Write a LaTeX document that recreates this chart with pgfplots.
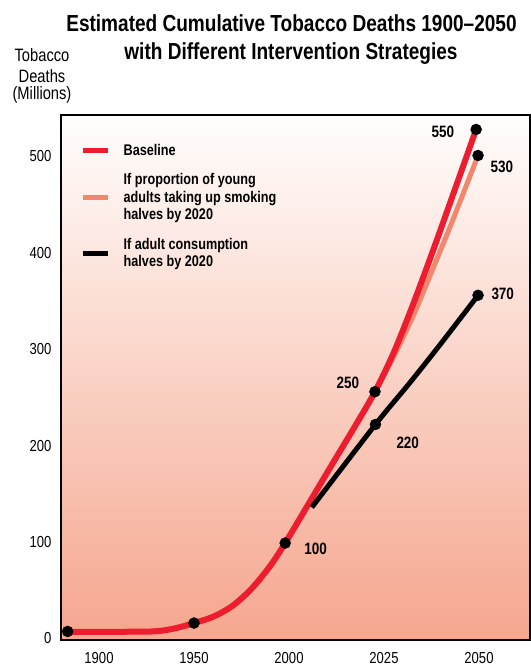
\documentclass[border=0pt]{standalone}
\usepackage{pgfplots}
\pgfplotsset{compat=1.18}
\usepackage{fontspec}
\setmainfont[FakeStretch=0.82]{Liberation Sans}

\definecolor{baseRed}{RGB}{237,28,46}
\definecolor{youngOrange}{RGB}{243,135,110}
\definecolor{bgBottom}{RGB}{245,166,142}
\definecolor{bgTop}{RGB}{255,254,253}

\begin{document}
\begin{tikzpicture}
\useasboundingbox (0,0) rectangle (531bp,672bp);
\begin{axis}[
    at={(61bp,32bp)}, anchor=south west,
    width=469bp, height=525bp, scale only axis,
    xmin=-0.4, xmax=4.537, ymin=-1.56, ymax=543,
    xtick={0,1,2,3,4},
    xticklabels={1900,1950,2000,2025,2050},
    ytick={0,100,...,500},
    major tick length=0pt,
    tick label style={font=\fontsize{16}{18}\selectfont},
    /pgf/number format/assume math mode=true,
    xticklabel style={yshift=-9bp},
    yticklabel style={xshift=-6bp},
    axis line style={line width=1.3bp},
    axis background/.style={top color=bgTop, bottom color=bgBottom},
    legend style={at={(axis description cs:0.0405,0.945)}, anchor=north west,
        draw=none, fill=none, inner sep=0pt, column sep=13bp, row sep=17bp,
        cells={anchor=west},
        nodes={inner sep=0pt, align=left, font=\bfseries\fontsize{15.5}{17.5}\selectfont}},
    legend image code/.code={\draw[#1, line width=5.5bp] (0bp,0bp) -- (25bp,0bp);},
    ]
    \addlegendimage{baseRed}
    \addlegendentry{Baseline}
    \addlegendimage{youngOrange}
    \addlegendentry{If proportion of young\\adults taking up smoking\\halves by 2020}
    \addlegendimage{black}
    \addlegendentry{If adult consumption\\halves by 2020}

    % young adults halve uptake
    \addplot[youngOrange, line width=5bp, smooth, forget plot] coordinates {
        (-0.33,7) (0.3,7) (0.6,7.5) (0.8,10.5) (1.0,16) (1.2,22.5) (1.4,33.5)
        (1.6,51) (1.8,75) (1.96,99) (2.2,138.6) (2.45,180) (2.7,221)
        (2.905,256) (3.1,292) (3.3,333) (3.5,380) (3.7,428) (3.99,501)};
    % baseline
    \addplot[baseRed, line width=6bp, smooth, forget plot] coordinates {
        (-0.33,7) (0.3,7) (0.6,7.5) (0.8,10.5) (1.0,16) (1.2,22.5) (1.4,33.5)
        (1.6,51) (1.8,75) (1.96,99) (2.2,138.6) (2.45,180) (2.7,221)
        (2.905,256) (3.1,296) (3.3,345) (3.5,398) (3.7,453) (3.97,528)};
    % adult consumption halves
    \addplot[black, line width=5bp, smooth, forget plot] coordinates {
        (2.24,136) (2.91,222) (3.27,265) (3.6,306) (3.99,356)};
    % dots
    \addplot[only marks, mark=*, mark size=5.5bp, black, forget plot] coordinates {
        (-0.33,7.3) (1.0,16) (1.96,99) (2.905,256) (3.97,528)
        (3.99,501) (3.99,356) (2.91,222)};

    \begin{scope}[every node/.style={font=\bfseries\fontsize{16.5}{18}\selectfont}]
    \node at (axis cs:3.62,526) {550};
    \node at (axis cs:4.24,489) {530};
    \node at (axis cs:4.25,357) {370};
    \node at (axis cs:2.62,265) {250};
    \node at (axis cs:3.25,203) {220};
    \node at (axis cs:2.28,93) {100};
    \end{scope}
\end{axis}

\node[anchor=base, font=\bfseries\fontsize{23.3}{26}\selectfont] at (291.5bp,640bp)
    {Estimated Cumulative Tobacco Deaths 1900--2050};
\node[anchor=base, font=\bfseries\fontsize{23.3}{26}\selectfont] at (291bp,612bp)
    {with Different Intervention Strategies};
\begin{scope}[every node/.style={anchor=base, font=\fontsize{18}{20}\selectfont}]
\node at (42bp,610bp) {Tobacco};
\node at (42bp,589bp) {Deaths};
\node at (42bp,572bp) {(Millions)};
\end{scope}
\end{tikzpicture}
\end{document}
